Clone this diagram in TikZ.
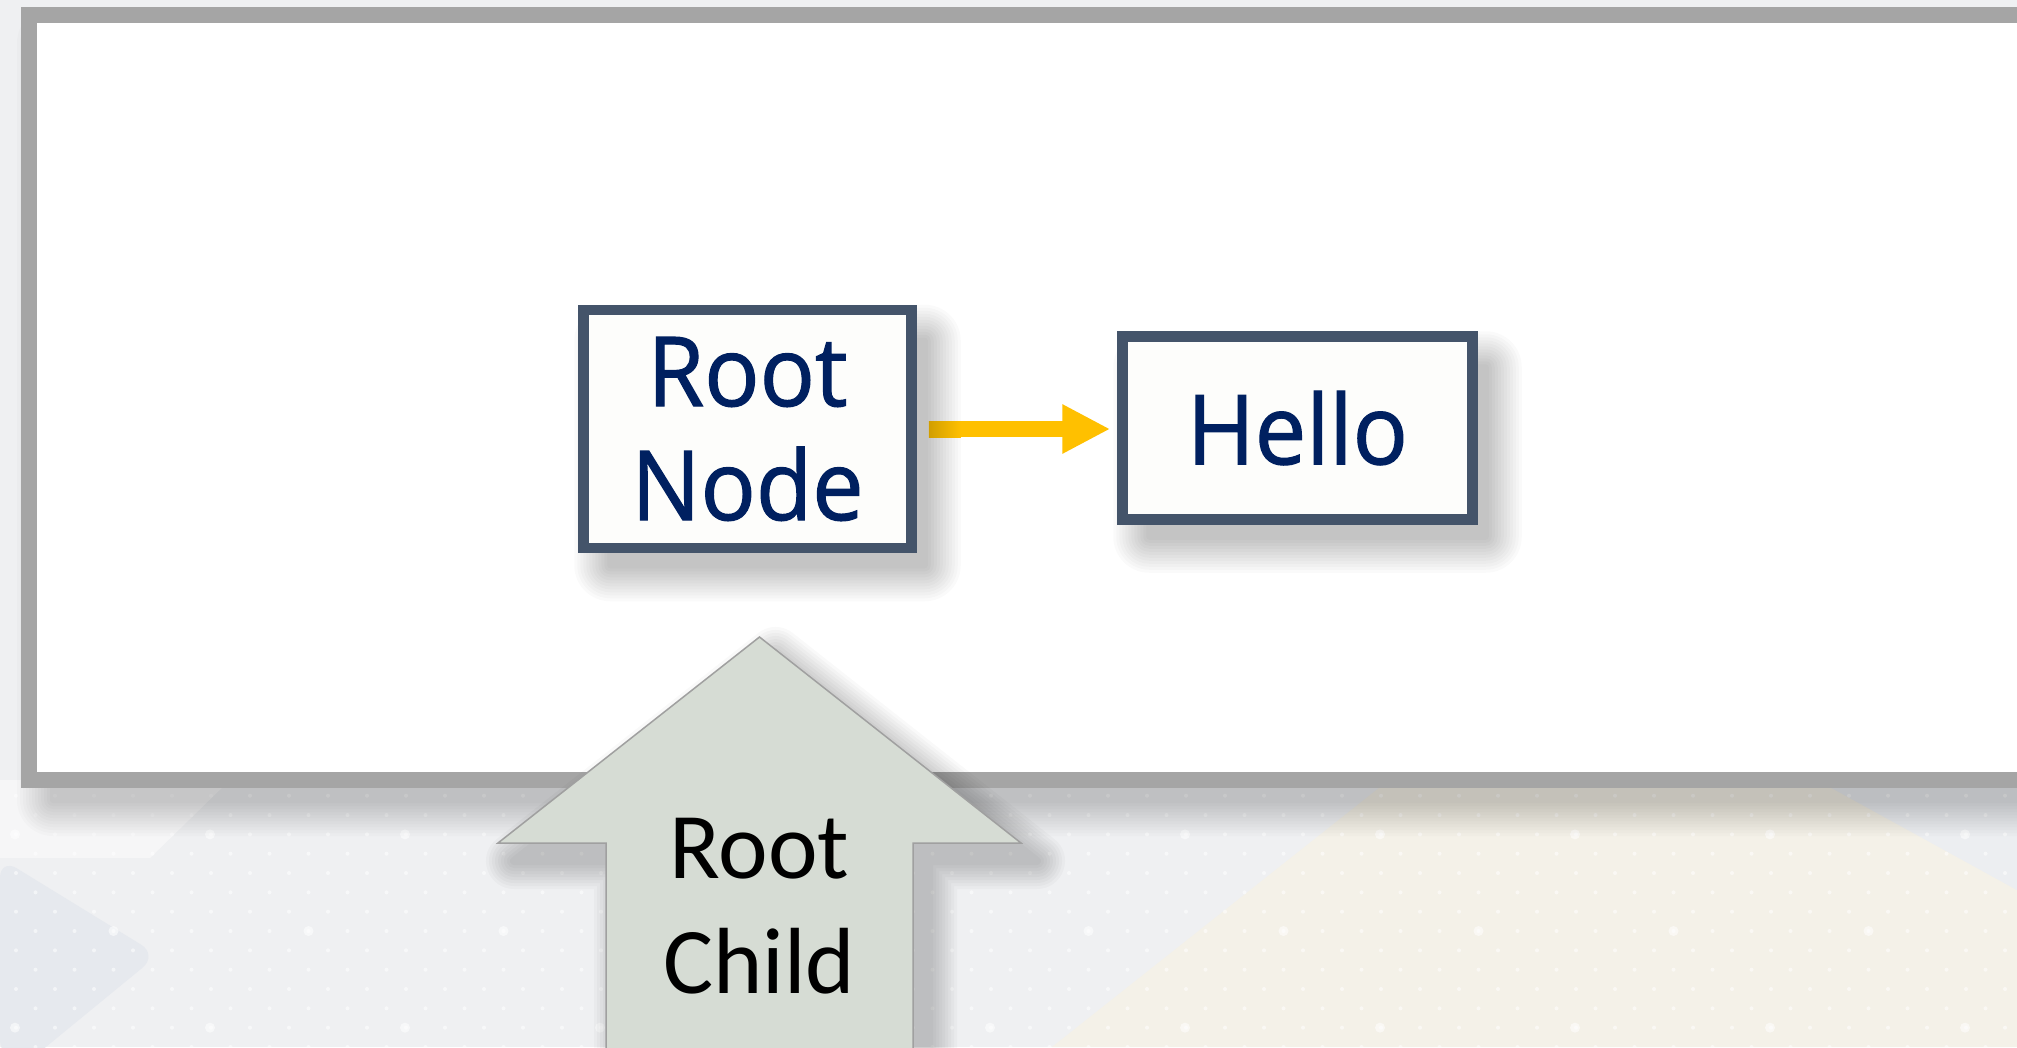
\documentclass[tikz,border=0pt]{standalone}
\usepackage{fontspec}
\setmainfont{Open Sans}
\newfontfamily\boxfont{Open Sans}[FakeBold=1.2, FakeStretch=0.95]
\newfontfamily\calibrifont{Carlito}
\usetikzlibrary{arrows.meta}

\definecolor{pagebg}{HTML}{EFF0F2}
\definecolor{paleband}{HTML}{F6F6F7}
\definecolor{bluepanel}{HTML}{E6E9EE}
\definecolor{creampanel}{HTML}{F4F1E8}
\definecolor{cornerblue}{HTML}{ECEEF1}
\definecolor{framegray}{HTML}{A5A5A5}
\definecolor{boxborder}{HTML}{44546A}
\definecolor{boxfill}{HTML}{FDFDFB}
\definecolor{navytext}{HTML}{002060}
\definecolor{flowgold}{HTML}{FFC000}
\definecolor{flowgolddark}{HTML}{D19E00}
\definecolor{upfill}{HTML}{D6DCD4}
\definecolor{upline}{HTML}{A0A0A0}

\pgfdeclarelayer{base}
\pgfdeclarelayer{shadows}
\pgfsetlayers{base,shadows,main}

% soft cast shadow: stacked widening copies of a path, each faint
% #1 opacity of one copy, #2 list of stroke widths, #3 path
\newcommand\castshadow[3]{%
  \foreach \w in {#2}{%
    \begin{scope}[transparency group, opacity=#1]
      \path (-150,-150) rectangle (2170,1200);
      \filldraw[black, line width=\w pt, line join=round] #3;
    \end{scope}}}

\tikzset{
  nodebox/.style={draw=boxborder, line width=10.5pt, fill=boxfill,
      rectangle, inner sep=0pt, align=center, text=navytext,
      font=\boxfont\fontsize{96.6}{114}\selectfont},
  flowline/.style={draw=flowgold, line width=16pt,
      -{Triangle[length=48pt,width=46pt]}, shorten <=12pt, shorten >=7pt},
  bgdot/.style={fill=white, opacity=0.55},
}

\begin{document}
\begin{tikzpicture}[x=1pt, y=-1pt]
\useasboundingbox (0,0) rectangle (2017,1047);

\begin{pgfonlayer}{base}
\begin{scope}
\clip (0,0) rectangle (2017,1047);
% backdrop with soft panels
\fill[pagebg] (0,0) rectangle (2017,1047);
\fill[paleband] (0,780) -- (230,780) -- (150,858) -- (0,858) -- cycle;
\fill[bluepanel, rounded corners=20pt] (0,858) -- (158,955) -- (30,1060) -- (0,1060) -- cycle;
\fill[creampanel] (1389,780) -- (1817,780) -- (2017,890) -- (2017,1047) -- (1052,1047) -- cycle;
\fill[cornerblue] (1817,780) -- (2017,780) -- (2017,890) -- cycle;

% dotted texture
\foreach \j in {0,...,13}{
  \foreach \i in {0,...,52}{
    \fill[bgdot] ({16+39*\i+19.5*mod(\j,2)}, {795.7+19.33*\j}) circle (2);
  }
}
\foreach \j/\off in {2/15, 7/113.5, 12/15}{
  \foreach \i in {0,...,10}{
    \fill[bgdot] ({\off+195*\i}, {795.7+19.33*\j}) circle (5);
  }
}

% framed panel
\castshadow{0.017}{72,66,...,6}{(53,43) rectangle (2088,800)}
\fill[white] (21,7) rectangle (2080,788);
\draw[framegray, line width=15.5pt] (29,15) rectangle (2090,780);
\end{scope}
\end{pgfonlayer}

% boxes
\node[nodebox, minimum width=328pt, minimum height=238pt] (root) at (747.5,429) {Root\\Node};
\node[nodebox, minimum width=350pt, minimum height=183pt] (hello) at (1297.5,428) {Hello};

\begin{pgfonlayer}{shadows}
\castshadow{0.02}{72,66,...,6}{([shift={(32,36)}]root.north west) rectangle ([shift={(8,12)}]root.south east)}
\castshadow{0.02}{72,66,...,6}{([shift={(32,36)}]hello.north west) rectangle ([shift={(8,12)}]hello.south east)}
\end{pgfonlayer}

% connector
\draw[flowline] (root.east) -- (hello.west |- root.east);
\shade[left color=flowgolddark, right color=flowgold]
  ([xshift=12pt,yshift=8pt]root.east) rectangle ([xshift=44pt,yshift=-8pt]root.east);

% upward block arrow
\begin{scope}[shift={(16,18)}]
\castshadow{0.025}{56,50,...,8}{(759.5,637) -- (1021,843) -- (913,843) -- (913,1080) -- (606,1080) -- (606,843) -- (498,843) -- cycle}
\end{scope}
\coordinate (uptip) at (759.5,637);
\filldraw[fill=upfill, draw=upline, line width=1.5pt]
  (uptip) -- (1021,843) -- (913,843) -- (913,1080) -- (606,1080)
  -- (606,843) -- (498,843) -- cycle;
\node[align=center, font=\calibrifont\fontsize{94}{115}\selectfont, text=black,
      inner sep=0pt] (childlabel) at (759.5,906) {Root\\Child};
\end{tikzpicture}
\end{document}
